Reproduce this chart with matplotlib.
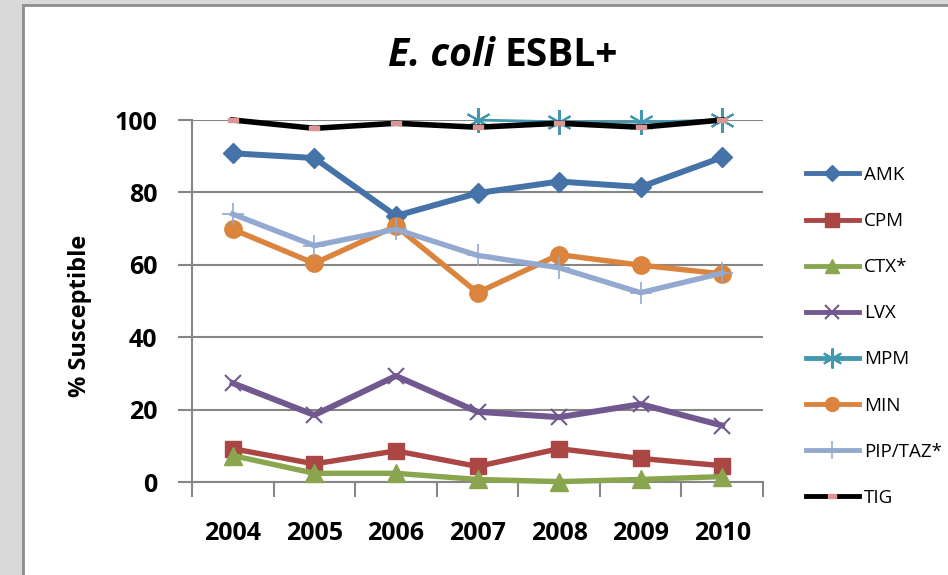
import numpy as np
import matplotlib
matplotlib.use('Agg')
import matplotlib.pyplot as plt
from matplotlib.lines import Line2D
from matplotlib.patches import Rectangle

# Susceptibility by year, percent
years = ['2004', '2005', '2006', '2007', '2008', '2009', '2010']
amk = [90.8, 89.5, 73.5, 79.8, 83.0, 81.5, 89.7]
cpm = [9.2, 5.0, 8.6, 4.3, 9.2, 6.5, 4.5]
ctx = [7.3, 2.4, 2.4, 0.7, 0.1, 0.7, 1.5]
lvx = [27.3, 18.5, 29.3, 19.4, 17.9, 21.5, 15.6]
mpm = [np.nan, np.nan, np.nan, 100.0, 99.5, 99.4, 100.0]
minoc = [69.8, 60.4, 70.7, 52.3, 62.8, 59.9, 57.5]
pip_taz = [74.0, 65.3, 69.8, 62.6, 59.2, 52.3, 57.7]
tig = [100.0, 97.7, 99.1, 98.0, 99.1, 98.0, 100.0]

plt.rcParams['font.family'] = ['Open Sans', 'DejaVu Sans']

# name, values, color, marker, markersize, line width, marker edge width
series = [
    ('AMK', amk, '#4572A7', 'D', 10.5, 4.3, 1.0),
    ('CPM', cpm, '#AA4643', 's', 12, 3.9, 1.0),
    ('CTX*', ctx, '#89A54E', '^', 13, 3.9, 1.0),
    ('LVX', lvx, '#71588F', 'x', 12, 4.3, 1.5),
    ('MPM', mpm, '#4198AF', (6, 2, 0), 18, 2.0, 1.5),
    ('MIN', minoc, '#DB843D', 'o', 12.5, 3.9, 1.0),
    ('PIP/TAZ*', pip_taz, '#93A9CF', '+', 16, 3.9, 1.2),
]
tig_marker = [(-1, -0.45), (1, -0.45), (1, 0.45), (-1, 0.45), (-1, -0.45)]

fig = plt.figure(figsize=(9.48, 5.75), dpi=100)
fig.patch.set_facecolor('#D9D9D9')
fig.patches.append(Rectangle((23 / 948, -0.1), 1.0, 1 - 5 / 575 + 0.1,
                             transform=fig.transFigure, facecolor='white',
                             edgecolor='#8C8C8C', linewidth=2.0, zorder=-5))

ax = fig.add_axes([192 / 948, 1 - 482 / 575, 571 / 948, 362 / 575])
ax.set_facecolor('none')
x = np.arange(len(years))

# markers at 0 and 100 sit on the plot edge, so don't clip them
for name, vals, col, mk, ms, lw, mew in series:
    ax.plot(x, vals, color=col, lw=lw, marker=mk, markersize=ms,
            markerfacecolor=col, markeredgecolor=col, markeredgewidth=mew,
            solid_joinstyle='round', zorder=3, clip_on=False)
ax.plot(x, tig, color='black', lw=4.0, marker=tig_marker, markersize=7,
        markerfacecolor='#D99694', markeredgecolor='#D99694', zorder=4,
        clip_on=False)

ax.set_xlim(-0.5, len(years) - 0.5)
ax.set_ylim(0, 100)
ax.set_yticks(np.arange(0, 101, 20))
ax.set_yticklabels([str(v) for v in range(0, 101, 20)],
                   fontsize=18, fontweight='bold')
ax.set_xticks(x)
ax.set_xticklabels(years, fontsize=18, fontweight='bold')
ax.set_xticks(np.arange(-0.5, len(years), 1), minor=True)
ax.tick_params(axis='x', which='major', length=0, pad=28)
ax.tick_params(axis='x', which='minor', length=11, width=1.5, color='#868686')
ax.tick_params(axis='y', length=10, width=1.5, color='#868686', pad=15)
ax.grid(axis='y', color='#868686', lw=1.5)
ax.set_axisbelow(True)
for side in ['top', 'right']:
    ax.spines[side].set_visible(False)
for side in ['left', 'bottom']:
    ax.spines[side].set_color('#868686')
    ax.spines[side].set_linewidth(1.5)
ax.set_ylabel('% Susceptible', fontsize=17, fontweight='bold')
ax.yaxis.set_label_coords((92 - 192) / 571, (482 - 316) / 362)

# title: italic species name followed by upright group name
fig.text(495 / 948, 1 - 56 / 575, 'E. coli', ha='right', va='center',
         fontsize=28, fontweight='bold', style='italic')
fig.text(505 / 948, 1 - 56 / 575, 'ESBL+', ha='left', va='center',
         fontsize=28, fontweight='bold')

handles = []
for name, vals, col, mk, ms, lw, mew in series:
    handles.append(Line2D([], [], color=col, lw=3.5, marker=mk,
                          markersize=ms * 0.8, markerfacecolor=col,
                          markeredgecolor=col, markeredgewidth=mew))
handles.append(Line2D([], [], color='black', lw=3.5, marker=tig_marker,
                      markersize=6, markerfacecolor='#D99694',
                      markeredgecolor='#D99694'))
labels = [s[0] for s in series] + ['TIG']
fig.legend(handles, labels, loc='upper left',
           bbox_to_anchor=(806 / 948, 1 - 166 / 575), frameon=False,
           fontsize=13.5, handlelength=2.8, handletextpad=0.3,
           labelspacing=1.5, borderpad=0, borderaxespad=0)

fig.savefig('out.png', dpi=100)
